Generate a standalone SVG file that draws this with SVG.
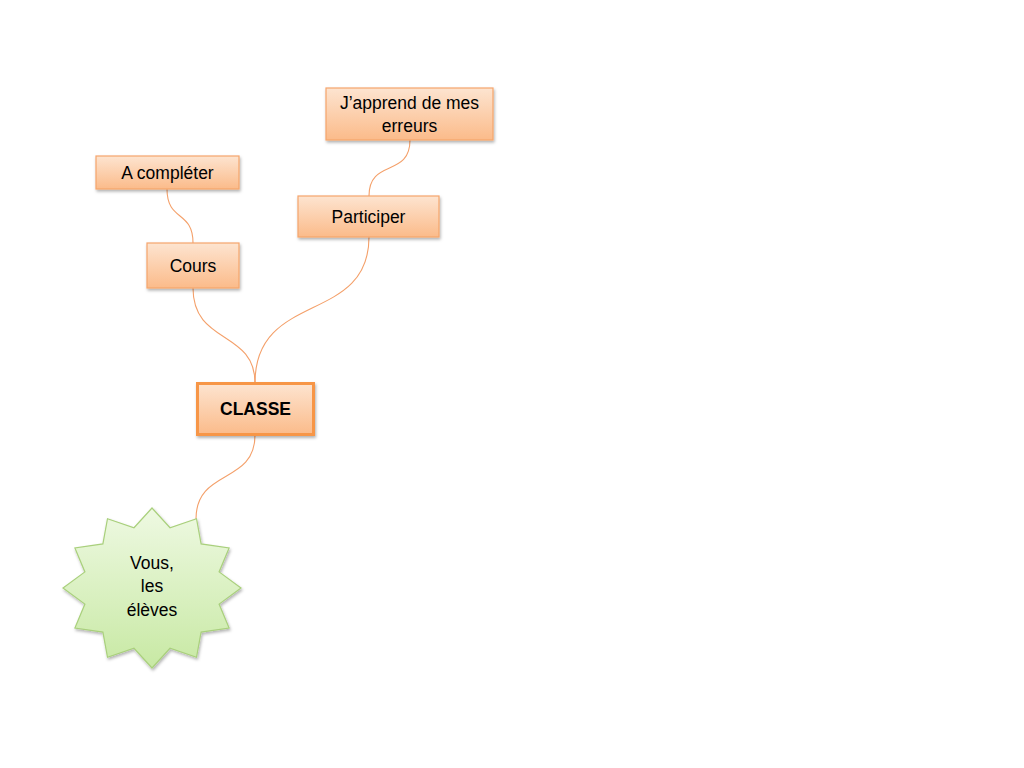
<svg xmlns="http://www.w3.org/2000/svg" width="1024" height="768" viewBox="0 0 1024 768">
<defs>
<linearGradient id="og" x1="0" y1="0" x2="0" y2="1">
<stop offset="0" stop-color="#fde4d0"/>
<stop offset="1" stop-color="#fbbb8a"/>
</linearGradient>
<linearGradient id="gg" x1="0" y1="0" x2="0" y2="1">
<stop offset="0" stop-color="#eef9e2"/>
<stop offset="1" stop-color="#c8e9a4"/>
</linearGradient>
<filter id="sh" x="-20%" y="-20%" width="140%" height="150%">
<feDropShadow dx="1" dy="2" stdDeviation="1.5" flood-color="#000" flood-opacity="0.3"/>
</filter>
</defs>
<style>
.box{fill:url(#og);stroke:#f6a56c;stroke-width:1.2;filter:url(#sh)}
.main{fill:url(#og);stroke:#f79646;stroke-width:3;filter:url(#sh)}
.star{fill:url(#gg);stroke:#a9d07c;stroke-width:1.2;filter:url(#sh)}
.t{font-family:"Liberation Sans",Arial,sans-serif;font-size:17.5px;fill:#000;text-anchor:middle}
.b{font-weight:bold}
.c{fill:none;stroke:#f4a06a;stroke-width:1.1}
</style>
<rect width="1024" height="768" fill="#fff"/>
<g id="connectors">
<path class="c" d="M167,189 C167,222 193,210 193,243"/>
<path class="c" d="M410,140 C410,178 369,158 369,196"/>
<path class="c" d="M193,288 C193,345 255,330 255,383"/>
<path class="c" d="M369,237 C369,325 255,290 255,383"/>
<path class="c" d="M255,435 C255,485 196,468 196,519"/>
</g>
<g id="n-acompleter">
<rect class="box" x="96" y="156" width="143" height="33"/>
<text class="t" x="167.5" y="179">A compléter</text>
</g>
<g id="n-cours">
<rect class="box" x="147" y="243" width="92" height="45"/>
<text class="t" x="193" y="272">Cours</text>
</g>
<g id="n-participer">
<rect class="box" x="298" y="196" width="141" height="41"/>
<text class="t" x="368.5" y="222.5">Participer</text>
</g>
<g id="n-japprend">
<rect class="box" x="326" y="88" width="167" height="52"/>
<text class="t" x="409.5" y="109">J’apprend de mes</text>
<text class="t" x="409.5" y="132">erreurs</text>
</g>
<g id="n-classe">
<rect class="main" x="197.5" y="383.5" width="116" height="51"/>
<text class="t b" x="255.5" y="415">CLASSE</text>
</g>
<g id="n-eleves">
<polygon class="star" points="152,508 170,527.7 196.5,518.7 201.1,543.9 229.1,548 219.1,571.9 241,588 219.1,604.1 229.1,628 201.1,632.1 196.5,657.3 170,648.3 152,668 134,648.3 107.5,657.3 102.9,632.1 74.9,628 84.9,604.1 63,588 84.9,571.9 74.9,548 102.9,543.9 107.5,518.7 134,527.7"/>
<text class="t" x="152" y="569">Vous,</text>
<text class="t" x="152" y="592">les</text>
<text class="t" x="152" y="616">élèves</text>
</g>
</svg>
